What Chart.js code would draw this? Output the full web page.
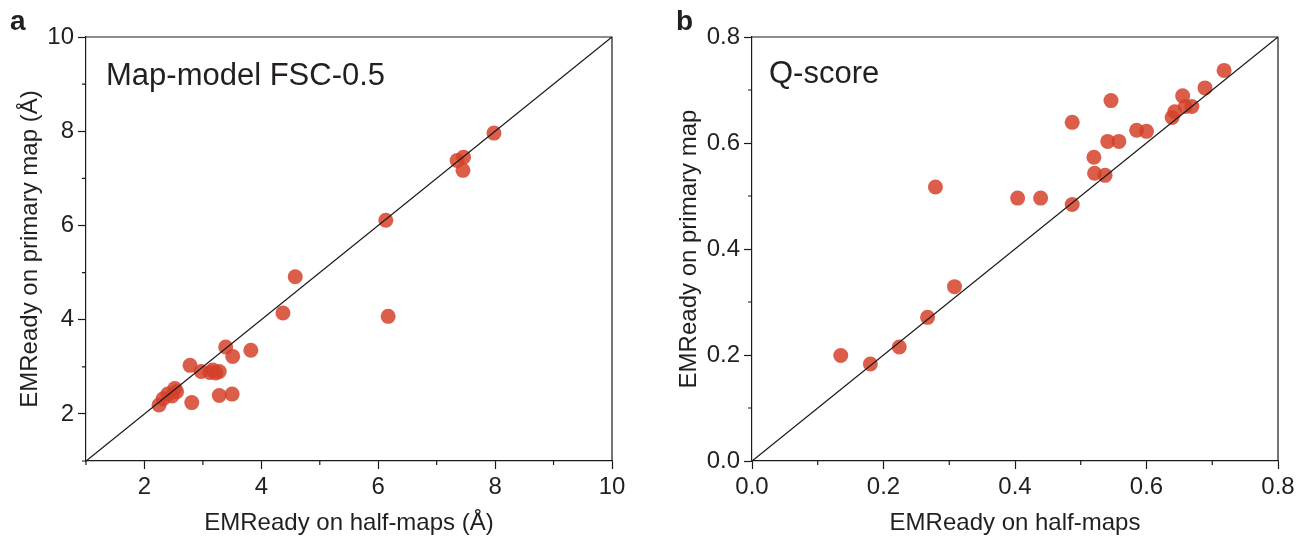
<!DOCTYPE html>
<html>
<head>
<script src="https://cdn.jsdelivr.net/npm/chart.js@4.4.1/dist/chart.umd.min.js"></script>
<style>
body { margin:0; background:#fff; font-family:"Liberation Sans", Arial, sans-serif; color:#231f20; }
#wrap { position:relative; width:1299px; height:540px; }
.panel { position:absolute; top:0; height:540px; }
.lbl { position:absolute; font-weight:bold; font-size:28px; line-height:1; }
.inset { position:absolute; font-size:31px; line-height:1; }
</style>
<title>EMReady scatter</title>
</head>
<body>
<div id="wrap">
  <div class="panel" style="left:0;width:650px"><canvas id="chartA"></canvas></div>
  <div class="panel" style="left:650px;width:649px"><canvas id="chartB"></canvas></div>
  <div class="lbl" style="left:10px;top:7px">a</div>
  <div class="lbl" style="left:676px;top:7px">b</div>
  <div class="inset" style="left:106px;top:59px">Map-model FSC-0.5</div>
  <div class="inset" style="left:769px;top:57px">Q-score</div>
</div>
<script>
// panel a: map-model FSC-0.5 (Å)
const fscHalf    = [2.25, 2.32, 2.40, 2.47, 2.52, 2.55, 2.81, 2.78, 2.97, 3.12, 3.17, 3.22, 3.28, 3.39, 3.51, 3.28, 3.50, 3.82, 4.37, 4.58, 6.13, 6.17, 7.35, 7.46, 7.45, 7.98];
const fscPrimary = [2.19, 2.32, 2.42, 2.38, 2.54, 2.47, 2.24, 3.03, 2.90, 2.88, 2.93, 2.87, 2.90, 3.42, 3.22, 2.39, 2.42, 3.35, 4.14, 4.91, 6.11, 4.07, 7.38, 7.45, 7.17, 7.96];
const fscMajor = [2, 4, 6, 8, 10];
const fscMinor = [1, 3, 5, 7, 9];

// panel b: Q-score
const qHalf    = [0.718, 0.689, 0.655, 0.643, 0.659, 0.669, 0.639, 0.546, 0.487, 0.585, 0.600, 0.541, 0.558, 0.520, 0.521, 0.537, 0.279, 0.404, 0.439, 0.487, 0.308, 0.135, 0.180, 0.224, 0.267];
const qPrimary = [0.737, 0.704, 0.689, 0.659, 0.669, 0.669, 0.648, 0.680, 0.639, 0.624, 0.622, 0.603, 0.603, 0.573, 0.543, 0.539, 0.517, 0.496, 0.496, 0.484, 0.329, 0.199, 0.183, 0.215, 0.271];
const qMajor = [0, 0.2, 0.4, 0.6, 0.8];
const qMinor = [0.1, 0.3, 0.5, 0.7];

const ink = '#1a1a1a';
const fontFam = '"Liberation Sans", Arial, sans-serif';

// top/right frame lines and short minor ticks
const framePlugin = {
    id: 'frame',
    afterDraw(chart, args, opts) {
        const ctx = chart.ctx, a = chart.chartArea;
        const sx = chart.scales.x, sy = chart.scales.y;
        ctx.save();
        ctx.strokeStyle = ink;
        ctx.lineWidth = 1.2;
        ctx.beginPath();
        ctx.moveTo(a.left, a.top); ctx.lineTo(a.right, a.top); ctx.lineTo(a.right, a.bottom);
        opts.minor.forEach(function (v) {
            const px = sx.getPixelForValue(v);
            ctx.moveTo(px, a.bottom); ctx.lineTo(px, a.bottom + 4);
            const py = sy.getPixelForValue(v);
            ctx.moveTo(a.left, py); ctx.lineTo(a.left - 4, py);
        });
        ctx.stroke();
        ctx.restore();
    }
};

function axis(min, max, major, fmt, title, fit, titlePad) {
    return {
        type: 'linear', min: min, max: max,
        afterBuildTicks: function (s) { s.ticks = major.map(function (v) { return {value: v}; }); },
        afterFit: fit,
        ticks: { callback: fmt, color: '#231f20', font: {family: fontFam, size: 24}, padding: 4 },
        grid: { drawOnChartArea: false, tickLength: 8, tickColor: ink, tickWidth: 1.2 },
        border: { color: ink, width: 1.2 },
        title: { display: true, text: title, color: '#231f20', font: {family: fontFam, size: 24}, padding: titlePad }
    };
}

function makeChart(id, xs, ys, c) {
    const pts = xs.map(function (x, i) { return {x: x, y: ys[i]}; });
    return new Chart(document.getElementById(id), {
        type: 'scatter',
        data: {
            datasets: [
                { data: [{x: c.min, y: c.min}, {x: c.max, y: c.max}], showLine: true, borderColor: ink, borderWidth: 1.3, pointRadius: 0, order: 0 },
                { data: pts, backgroundColor: 'rgba(213,66,42,0.85)', borderWidth: 0, pointRadius: 7.5, order: 1 }
            ]
        },
        options: {
            responsive: true, maintainAspectRatio: false, animation: false, events: [],
            layout: { padding: { top: 37, right: c.padRight, left: 0, bottom: 0 } },
            plugins: { legend: {display: false}, tooltip: {enabled: false}, frame: {minor: c.minor} },
            scales: {
                x: axis(c.min, c.max, c.major, c.fmt, c.xTitle, function (s) { s.height = 79; }, {bottom: 2}),
                y: axis(c.min, c.max, c.major, c.fmt, c.yTitle, function (s) { s.width = c.yWidth; }, {top: c.yTitlePad})
            }
        },
        plugins: [framePlugin]
    });
}

makeChart('chartA', fscHalf, fscPrimary, {
    min: 1, max: 10, major: fscMajor, minor: fscMinor,
    fmt: function (v) { return String(v); },
    xTitle: 'EMReady on half-maps (Å)', yTitle: 'EMReady on primary map (Å)',
    yWidth: 86, padRight: 38, yTitlePad: 16
});
makeChart('chartB', qHalf, qPrimary, {
    min: 0, max: 0.8, major: qMajor, minor: qMinor,
    fmt: function (v) { return v.toFixed(1); },
    xTitle: 'EMReady on half-maps', yTitle: 'EMReady on primary map',
    yWidth: 102, padRight: 21, yTitlePad: 25
});
</script>
</body>
</html>
